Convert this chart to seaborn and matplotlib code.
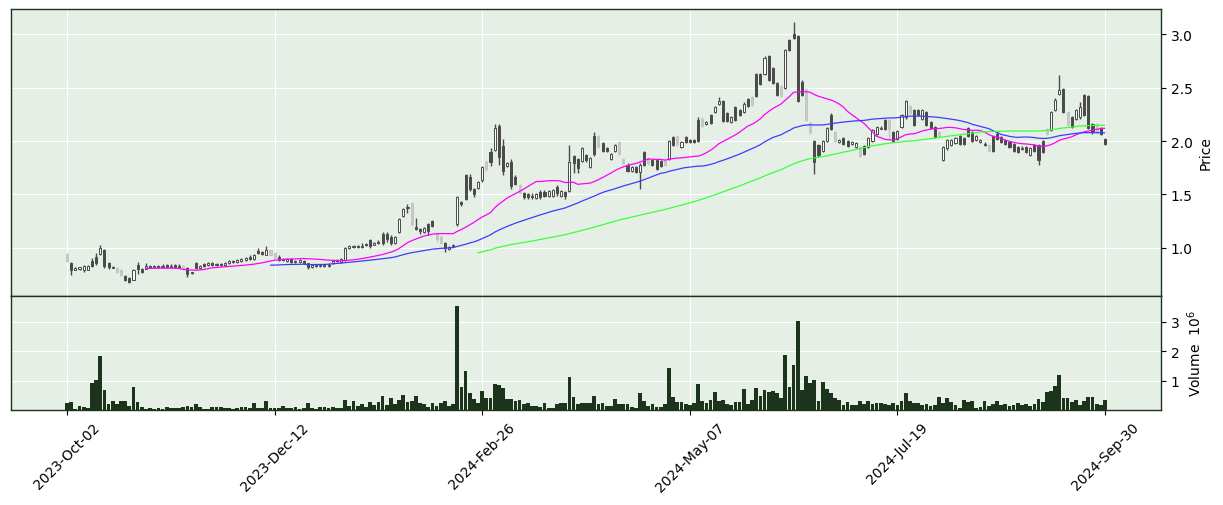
import numpy as np
import pandas as pd
import seaborn as sns
import matplotlib
matplotlib.use('Agg')
import matplotlib.pyplot as plt

# daily bars, 2023-10-02 .. 2024-09-30 (251 trading days)
opens = [
    .94, .86, .79, .80, .79, .79, .88, .92, .94, .98,
    .86, .815, .81, .79, .74, .72, .70, .84, .80, .80,
    .83, .82, .83, .82, .84, .82, .84, .83, .83, .81,
    .775, .86, .81, .85, .84, .86, .84, .85, .84, .86,
    .88, .87, .88, .89, .92, .90, .97, .96, .93, .98,
    .95, .92, .90, .88, .90, .87, .87, .88, .86, .82,
    .84, .83, .84, .83, .86, .89, .87, .89, 1.00, 1.01,
    1.02, 1.02, 1.04, 1.07, 1.03, 1.06, 1.13, 1.13, 1.10, 1.05,
    1.15, 1.30, 1.38, 1.42, 1.20, 1.18, 1.15, 1.22, 1.25, 1.14,
    1.10, 1.05, .99, 1.02, 1.22, 1.43, 1.68, 1.66, 1.55, 1.56,
    1.64, 1.80, 1.90, 1.92, 2.14, 1.95, 1.77, 1.80, 1.66, 1.59,
    1.51, 1.50, 1.49, 1.47, 1.52, 1.52, 1.49, 1.49, 1.57, 1.49,
    1.52, 1.53, 1.86, 1.83, 1.81, 1.87, 1.76, 2.05, 2.05, 1.98,
    1.93, 1.83, 1.91, 1.99, 1.83, 1.78, 1.72, 1.76, 1.71, 1.90,
    1.84, 1.82, 1.82, 1.81, 1.82, 1.83, 2.04, 2.05, 1.94, 2.04,
    2.01, 2.01, 2.20, 2.21, 2.16, 2.24, 2.27, 2.35, 2.37, 2.26,
    2.18, 2.32, 2.29, 2.27, 2.39, 2.41, 2.63, 2.63, 2.63, 2.79,
    2.68, 2.54, 2.51, 2.50, 2.94, 3.00, 2.98, 2.55, 2.49, 2.17,
    2.00, 1.96, 1.91, 2.00, 2.24, 2.08, 1.995, 2.03, 2.00, 1.97,
    1.94, 1.94, 1.95, 1.94, 2.00, 2.07, 2.115, 2.20, 2.20, 2.08,
    2.02, 2.13, 2.22, 2.33, 2.29, 2.29, 2.21, 2.27, 2.18, 2.13,
    2.08, 1.82, 1.93, 1.96, 1.98, 2.05, 2.03, 2.12, 2.08, 2.01,
    1.99, 1.975, 1.96, 2.05, 2.07, 2.04, 2.01, 1.99, 1.97, 1.94,
    1.925, 1.94, 1.87, 1.96, 1.96, 2.00, 2.11, 2.10, 2.29, 2.44,
    2.49, 2.27, 2.22, 2.21, 2.22, 2.43, 2.42, 2.16, 2.16, 2.12,
    2.02,
]
highs = [
    .95, .87, .82, .82, .84, .84, .91, .95, 1.03, .99,
    .87, .83, .82, .80, .75, .73, .80, .87, .81, .86,
    .84, .84, .84, .85, .85, .85, .85, .85, .84, .82,
    .78, .87, .84, .86, .87, .87, .86, .86, .87, .89,
    .89, .90, .91, .92, .93, .94, 1.00, .97, 1.02, .99,
    .96, .93, .91, .91, .91, .89, .90, .89, .86, .85,
    .85, .85, .85, .86, .89, .90, .91, 1.01, 1.03, 1.03,
    1.03, 1.05, 1.05, 1.08, 1.06, 1.07, 1.15, 1.15, 1.12, 1.11,
    1.28, 1.37, 1.41, 1.43, 1.28, 1.19, 1.20, 1.23, 1.26, 1.15,
    1.12, 1.06, 1.02, 1.04, 1.49, 1.44, 1.69, 1.69, 1.56, 1.63,
    1.77, 1.82, 1.93, 2.16, 2.16, 2.02, 1.80, 1.83, 1.68, 1.60,
    1.52, 1.51, 1.51, 1.51, 1.54, 1.54, 1.54, 1.55, 1.59, 1.54,
    1.53, 1.96, 1.87, 1.84, 1.94, 1.88, 1.85, 2.08, 2.06, 1.99,
    1.94, 1.89, 1.97, 2.00, 1.84, 1.79, 1.77, 1.77, 1.79, 1.91,
    1.85, 1.83, 1.83, 1.82, 1.83, 2.01, 2.05, 2.06, 2.00, 2.05,
    2.02, 2.02, 2.22, 2.22, 2.19, 2.25, 2.33, 2.41, 2.38, 2.27,
    2.23, 2.33, 2.30, 2.36, 2.40, 2.42, 2.64, 2.64, 2.79, 2.80,
    2.69, 2.55, 2.52, 2.86, 2.95, 3.11, 2.99, 2.57, 2.50, 2.18,
    2.01, 1.97, 2.01, 2.13, 2.26, 2.09, 2.02, 2.04, 2.01, 2.00,
    1.99, 1.95, 1.96, 2.04, 2.11, 2.14, 2.14, 2.21, 2.21, 2.09,
    2.10, 2.25, 2.38, 2.34, 2.30, 2.30, 2.30, 2.28, 2.19, 2.14,
    2.09, 1.95, 2.02, 2.02, 2.04, 2.06, 2.04, 2.13, 2.09, 2.06,
    2.02, 1.99, 1.97, 2.06, 2.08, 2.05, 2.02, 2.00, 1.98, 1.95,
    1.95, 1.95, 1.94, 1.97, 1.97, 2.01, 2.12, 2.28, 2.40, 2.62,
    2.50, 2.28, 2.23, 2.30, 2.36, 2.44, 2.43, 2.17, 2.17, 2.13,
    2.03,
]
lows = [
    .87, .75, .79, .79, .78, .79, .82, .84, .93, .81,
    .80, .81, .77, .74, .69, .67, .70, .76, .77, .80,
    .81, .81, .81, .81, .81, .82, .81, .81, .80, .73,
    .76, .80, .80, .82, .83, .83, .83, .83, .83, .85,
    .86, .86, .87, .88, .89, .89, .94, .93, .93, .93,
    .90, .88, .88, .87, .86, .86, .86, .85, .80, .81,
    .82, .82, .82, .82, .85, .87, .86, .88, .99, 1.00,
    1.00, 1.00, 1.02, 1.00, 1.03, 1.04, 1.03, 1.06, 1.03, 1.04,
    1.14, 1.29, 1.33, 1.21, 1.17, 1.13, 1.14, 1.12, 1.20, 1.06,
    1.04, .96, .98, 1.01, 1.21, 1.39, 1.45, 1.53, 1.48, 1.55,
    1.62, 1.72, 1.77, 1.91, 1.78, 1.68, 1.76, 1.55, 1.59, 1.50,
    1.46, 1.46, 1.46, 1.46, 1.46, 1.48, 1.48, 1.48, 1.49, 1.48,
    1.46, 1.52, 1.70, 1.70, 1.80, 1.80, 1.75, 1.86, 1.93, 1.90,
    1.90, 1.82, 1.90, 1.87, 1.78, 1.71, 1.71, 1.70, 1.55, 1.77,
    1.78, 1.77, 1.73, 1.76, 1.77, 1.82, 1.95, 1.95, 1.93, 1.98,
    1.98, 1.98, 1.99, 2.13, 2.15, 2.16, 2.26, 2.34, 2.18, 2.18,
    2.17, 2.19, 2.23, 2.26, 2.32, 2.33, 2.41, 2.52, 2.62, 2.56,
    2.53, 2.42, 2.41, 2.49, 2.84, 2.95, 2.36, 2.42, 2.19, 2.07,
    1.69, 1.85, 1.90, 1.99, 2.10, 1.99, 1.98, 1.96, 1.94, 1.96,
    1.93, 1.85, 1.87, 1.93, 1.99, 2.06, 2.11, 2.10, 2.02, 1.99,
    2.01, 2.12, 2.21, 2.25, 2.14, 2.23, 2.20, 2.14, 2.11, 2.03,
    2.04, 1.81, 1.92, 1.95, 1.97, 1.96, 1.96, 2.04, 1.99, 2.00,
    1.98, 1.95, 1.90, 1.90, 2.01, 1.98, 1.96, 1.93, 1.90, 1.89,
    1.92, 1.89, 1.86, 1.90, 1.78, 1.89, 2.06, 2.09, 2.28, 2.43,
    2.26, 2.14, 2.12, 2.20, 2.21, 2.23, 2.11, 2.07, 2.07, 2.06,
    1.96,
]
closes = [
    .88, .79, .81, .82, .83, .83, .83, .86, 1.00, .83,
    .82, .825, .78, .75, .70, .68, .79, .80, .78, .83,
    .82, .83, .82, .83, .82, .83, .82, .82, .81, .76,
    .765, .81, .83, .83, .86, .84, .85, .84, .86, .88,
    .87, .89, .90, .91, .90, .93, .95, .94, .98, .93,
    .91, .89, .89, .90, .87, .88, .89, .86, .82, .84,
    .83, .84, .83, .84, .88, .88, .90, 1.00, 1.02, 1.02,
    1.01, 1.01, 1.03, 1.02, 1.05, 1.05, 1.05, 1.08, 1.05, 1.10,
    1.27, 1.36, 1.37, 1.22, 1.18, 1.16, 1.19, 1.16, 1.21, 1.08,
    1.05, 1.00, 1.01, 1.03, 1.48, 1.41, 1.46, 1.55, 1.50, 1.62,
    1.76, 1.74, 1.80, 2.12, 1.85, 1.72, 1.79, 1.58, 1.60, 1.51,
    1.48, 1.48, 1.48, 1.50, 1.48, 1.49, 1.53, 1.54, 1.51, 1.53,
    1.49, 1.80, 1.79, 1.75, 1.93, 1.82, 1.84, 1.88, 1.94, 1.91,
    1.91, 1.88, 1.96, 1.88, 1.79, 1.72, 1.76, 1.71, 1.78, 1.78,
    1.79, 1.78, 1.74, 1.77, 1.78, 2.00, 1.96, 1.97, 1.99, 1.99,
    1.99, 1.99, 2.00, 2.14, 2.18, 2.17, 2.32, 2.37, 2.19, 2.19,
    2.22, 2.20, 2.24, 2.35, 2.33, 2.34, 2.42, 2.53, 2.78, 2.57,
    2.54, 2.43, 2.42, 2.85, 2.85, 2.96, 2.37, 2.43, 2.20, 2.08,
    1.80, 1.87, 2.00, 2.12, 2.11, 2.00, 2.005, 1.97, 1.95, 1.99,
    1.98, 1.86, 1.88, 2.03, 2.10, 2.13, 2.125, 2.11, 2.11, 2.00,
    2.09, 2.24, 2.37, 2.26, 2.15, 2.24, 2.29, 2.15, 2.12, 2.04,
    2.05, 1.94, 2.01, 2.01, 2.03, 1.97, 1.97, 2.05, 2.00, 2.05,
    2.01, 1.965, 1.91, 1.91, 2.02, 1.99, 1.97, 1.94, 1.91, 1.90,
    1.935, 1.90, 1.93, 1.91, 1.82, 1.90, 2.07, 2.27, 2.38, 2.48,
    2.27, 2.15, 2.13, 2.29, 2.32, 2.24, 2.12, 2.08, 2.08, 2.07,
    1.97,
]
# volume in millions of shares
volume_m = [
    .25, .30, .06, .16, .13, .10, .93, 1.03, 1.84, .70,
    .23, .33, .23, .33, .33, .16, .80, .30, .13, .06,
    .10, .06, .10, .06, .13, .10, .10, .10, .13, .16,
    .13, .23, .13, .06, .06, .13, .13, .13, .10, .10,
    .06, .10, .13, .13, .10, .26, .10, .10, .33, .10,
    .10, .10, .16, .10, .10, .13, .06, .10, .26, .10,
    .06, .13, .13, .10, .13, .10, .10, .36, .15, .33,
    .16, .23, .13, .30, .20, .30, .50, .20, .43, .23,
    .36, .53, .30, .33, .50, .26, .23, .13, .26, .16,
    .26, .33, .16, .23, 3.51, .80, 1.33, .60, .40, .26,
    .66, .43, .43, .90, .87, .77, .40, .40, .33, .36,
    .23, .26, .16, .16, .13, .26, .10, .10, .23, .26,
    .26, 1.13, .46, .23, .26, .26, .26, .50, .23, .26,
    .16, .16, .40, .23, .23, .23, .13, .10, .60, .33,
    .16, .23, .13, .13, .23, 1.44, .46, .30, .30, .23,
    .20, .26, .90, .33, .26, .36, .63, .33, .36, .23,
    .20, .30, .30, .73, .23, .36, .77, .50, .70, .63,
    .66, .60, .43, 1.87, .80, 1.54, 3.01, .70, 1.17, .93,
    1.03, .33, .97, .73, .60, .43, .36, .20, .30, .20,
    .20, .33, .23, .33, .23, .26, .26, .23, .20, .26,
    .20, .33, .60, .33, .26, .26, .20, .23, .16, .20,
    .46, .26, .43, .30, .20, .10, .36, .30, .33, .10,
    .13, .33, .16, .23, .33, .20, .23, .16, .20, .26,
    .20, .23, .16, .23, .40, .30, .63, .66, .83, 1.20,
    .43, .43, .30, .36, .20, .33, .46, .46, .23, .20,
    .36,
]
# candles drawn in light grey instead of dark grey
grey_days = [0, 12, 13, 28, 49, 50, 83, 89, 90, 101, 109, 128, 133, 134, 140,
             144, 147, 153, 165, 172, 178, 179, 185, 191, 198, 203, 210, 222,
             236, 241, 248]
mav_periods = [20, 50, 100]
mav_colors = ['#ff00ff', '#3c3cff', '#3cff3c']
tick_days = [0, 50, 100, 150, 200, 250]
tick_labels = ['2023-Oct-02', '2023-Dec-12', '2024-Feb-26',
               '2024-May-07', '2024-Jul-19', '2024-Sep-30']

df = pd.DataFrame({'Open': opens, 'High': highs, 'Low': lows,
                   'Close': closes, 'Volume': volume_m})
df['day'] = np.arange(len(df))
for n in mav_periods:
    df[f'MA{n}'] = df['Close'].rolling(n).mean()

edge_dark = '#1c331c'
sns.set_style('darkgrid', {'axes.facecolor': '#e5efe5', 'grid.color': 'white',
                           'axes.edgecolor': edge_dark, 'xtick.bottom': True,
                           'ytick.right': True, 'xtick.color': 'black',
                           'ytick.color': 'black', 'axes.labelcolor': 'black',
                           'text.color': 'black'})
plt.rcParams['font.family'] = ['DejaVu Sans']
plt.rcParams['font.size'] = 10

fig = plt.figure(figsize=(12.23, 5.06), dpi=100)
W, H = 1223, 506
ax = fig.add_axes([11 / W, 1 - 297 / H, 1150 / W, 287 / H])
axv = fig.add_axes([11 / W, 1 - 411 / H, 1150 / W, 114 / H], sharex=ax)

# candles
up = df['Close'] >= df['Open']
grey = df['day'].isin(grey_days)
face = np.where(up, 'white', np.where(grey, '#c9c9c9', '#4a4a4a'))
edge = np.where(grey, '#c4c4c4', '#4a4a4a')
ax.vlines(df['day'], df['Low'], df['High'], colors=edge, lw=1.0, zorder=2)
body_lo = df[['Open', 'Close']].min(axis=1)
body_h = (df['Close'] - df['Open']).abs()
ax.bar(df['day'], body_h, bottom=body_lo, width=0.5, color=face,
       edgecolor=edge, lw=0.7, zorder=3)

# moving averages
for n, c in zip(mav_periods, mav_colors):
    sns.lineplot(data=df, x='day', y=f'MA{n}', ax=ax, color=c, lw=0.9, zorder=4)

# volume
axv.bar(df['day'], df['Volume'], width=0.9, color=edge_dark, lw=0)

ax.set_xlim(-13.5, 263.5)
ax.set_ylim(0.551, 3.234)
axv.set_ylim(0.3 * df['Volume'].min(), 1.1 * df['Volume'].max())

for a in (ax, axv):
    a.yaxis.tick_right()
    a.yaxis.set_label_position('right')
    a.set_xlabel('')
    for s in a.spines.values():
        s.set_color(edge_dark)
        s.set_linewidth(1.0)
    a.tick_params(axis='y', left=False, right=True, length=3.5, color='black')
    a.tick_params(axis='x', length=3.5, color='black')

ax.set_yticks([1.0, 1.5, 2.0, 2.5, 3.0])
ax.set_yticklabels(['1.0', '1.5', '2.0', '2.5', '3.0'])
ax.set_ylabel('Price')
ax.tick_params(axis='x', bottom=False, labelbottom=False)

axv.set_yticks([1, 2, 3])
axv.set_yticklabels(['1', '2', '3'])
axv.set_ylabel('Volume  $10^{6}$')
axv.set_xticks(tick_days)
axv.set_xticklabels(tick_labels, rotation=45)

fig.savefig('out.png', dpi=100)
